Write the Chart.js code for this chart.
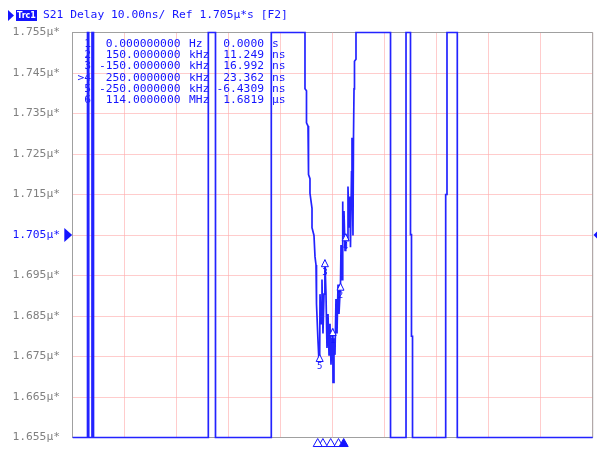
<!DOCTYPE html>
<html><head><meta charset="utf-8">
<script src="https://cdn.jsdelivr.net/npm/chart.js@4.4.1/dist/chart.umd.min.js"></script>
<style>html,body{margin:0;padding:0;background:#fff;overflow:hidden}canvas{display:block}</style>
</head><body>
<canvas id="c" width="597" height="457"></canvas>
<script>
// Trace: frequency offset (kHz) and group delay (µs, clipped to display range)
const freqKHz = [-5000,-4715,-4715,-4692,-4692,-4629,-4629,-4600,-4600,-2392,-2392,-2254,-2254,-1181,-1181,-533,
  -533,-504,-504,-475,-465,-437,-437,-398,-398,-360,-340,-321,-321,-302,-285,-265,-250,-244,-225,-206,-187,-167,-150,
  -129,-110,-90,-71,-52,-33,-13,0,6,25,44,63,83,102,121,150,160,179,188,198,217,237,250,275,294,313,333,342,362,371,
  390,400,410,419,448,448,
  1112,1112,1410,1410,1496,1496,1515,1515,1535,1535,2173,2173,2198,2198,2396,2396,5000];
const delayUs = [1.655,1.655,1.755,1.755,1.655,1.655,1.755,1.755,1.655,1.655,1.755,1.755,1.655,1.655,1.755,1.755,
  1.7411,1.7406,1.7327,1.7319,1.7199,1.7189,1.7153,1.7116,1.7068,1.7049,1.6996,1.6976,1.6904,1.6880,1.6795,1.6740,1.6755,1.6904,1.6831,1.6940,1.6807,1.6904,1.6989,
  1.6904,1.6771,1.6855,1.6754,1.6831,1.6730,1.6795,1.6819,1.6686,1.6795,1.6754,1.6892,1.6807,1.6928,1.6855,1.6931,1.7025,1.6940,1.7133,1.7037,1.7109,1.7012,1.7053,1.7037,1.7170,1.7068,1.7145,1.7020,1.7206,1.7290,
  1.7049,1.7290,1.7411,1.7479,1.7484,1.755,
  1.755,1.655,1.655,1.755,1.755,1.7051,1.7051,1.6800,1.6800,1.655,1.655,1.7150,1.7150,1.755,1.755,1.655,1.655];

const yTicks = [1.655,1.665,1.675,1.685,1.695,1.705,1.715,1.725,1.735,1.745,1.755];
const xTicks = [-5000,-4000,-3000,-2000,-1000,0,1000,2000,3000,4000,5000];
const refLevel = 1.705;

const markerNames = ['1','2','3','4','5'];
const markerFreqKHz = [0,150,-150,250,-250];
const markerDelayUs = [1.6819,1.6931,1.6989,1.7053,1.6755];
const activeMarker = '4';

const tableMarker = ['1','2','3','>4','5','6'];
const tableFreq = ['0.000000000','150.0000000','-150.0000000','250.0000000','-250.0000000','114.0000000'];
const tableFreqUnit = ['Hz','kHz','kHz','kHz','kHz','MHz'];
const tableValue = ['0.0000','11.249','16.992','23.362','-6.4309','1.6819'];
const tableValueUnit = ['s','ns','ns','ns','ns','µs'];

const titleText = 'S21 Delay 10.00ns/ Ref 1.705µ*s [F2]';

const BLUE = '#1414ff';
const TRACE = 'rgb(35,35,255)';
const GRAY = '#808080';
const PINK = 'rgba(255,170,170,0.6)';
const FONT = '"DejaVu Sans Mono", "Liberation Mono", monospace';

const vnaPlugin = {
  id: 'vna',
  beforeDatasetsDraw(chart) {
    const {ctx, chartArea: a} = chart;
    ctx.save();
    ctx.strokeStyle = '#a0a0a0'; ctx.lineWidth = 1;
    ctx.beginPath();
    ctx.moveTo(a.left, a.top); ctx.lineTo(a.right, a.top); ctx.lineTo(a.right, a.bottom);
    ctx.stroke();
    ctx.fillStyle = BLUE;
    ctx.font = '11.3px ' + FONT;
    ctx.textBaseline = 'middle';
    for (let i = 0; i < tableMarker.length; i++) {
      const y = 43.8 + i * 11.3;
      ctx.textAlign = 'right';
      ctx.fillText(tableMarker[i], 91, y);
      ctx.fillText(tableFreq[i], 180.5, y);
      ctx.fillText(tableValue[i], 264, y);
      ctx.textAlign = 'left';
      ctx.fillText(tableFreqUnit[i], 189, y);
      ctx.fillText(tableValueUnit[i], 272, y);
    }
    ctx.restore();
  },
  afterDatasetsDraw(chart) {
    const {ctx, chartArea: a, scales} = chart;
    ctx.save();
    ctx.lineWidth = 1;
    ctx.strokeStyle = BLUE;
    ctx.font = '9px ' + FONT;
    ctx.textAlign = 'center';
    ctx.textBaseline = 'top';
    for (let i = 0; i < markerNames.length; i++) {
      const px = scales.x.getPixelForValue(markerFreqKHz[i]);
      const py = scales.y.getPixelForValue(markerDelayUs[i]);
      ctx.beginPath();
      ctx.moveTo(px, py); ctx.lineTo(px - 3.5, py + 7); ctx.lineTo(px + 3.5, py + 7); ctx.closePath();
      ctx.fillStyle = '#fff'; ctx.fill(); ctx.stroke();
      ctx.fillStyle = BLUE;
      ctx.fillText(markerNames[i], px, py + 8);
    }
    const order = markerNames.map((n, i) => i).sort((i, j) => (markerNames[i] === activeMarker) - (markerNames[j] === activeMarker));
    for (const i of order) {
      const px = scales.x.getPixelForValue(markerFreqKHz[i]) - 2;
      const top = a.bottom + 1;
      ctx.beginPath();
      ctx.moveTo(px, top); ctx.lineTo(px - 4.5, top + 8); ctx.lineTo(px + 4.5, top + 8); ctx.closePath();
      ctx.fillStyle = markerNames[i] === activeMarker ? BLUE : '#fff';
      ctx.fill(); ctx.stroke();
    }
    const ry = scales.y.getPixelForValue(refLevel);
    ctx.fillStyle = BLUE;
    ctx.beginPath();
    ctx.moveTo(64.3, ry - 7); ctx.lineTo(64.3, ry + 7); ctx.lineTo(a.left - 0.5, ry); ctx.closePath(); ctx.fill();
    ctx.beginPath();
    ctx.moveTo(597, ry - 3.5); ctx.lineTo(597, ry + 3.5); ctx.lineTo(593.5, ry); ctx.closePath(); ctx.fill();
    ctx.beginPath();
    ctx.moveTo(8, 10); ctx.lineTo(8, 21); ctx.lineTo(14, 15.5); ctx.closePath(); ctx.fill();
    ctx.fillRect(16, 10, 21, 11);
    ctx.fillStyle = '#fff';
    ctx.font = 'bold 8px "DejaVu Sans"';
    ctx.textAlign = 'center'; ctx.textBaseline = 'middle';
    ctx.fillText('Trc1', 26.5, 15.8);
    ctx.fillStyle = BLUE;
    ctx.font = '11.3px ' + FONT;
    ctx.textAlign = 'left';
    ctx.fillText(titleText, 43, 15.5);
    ctx.restore();
  }
};

new Chart(document.getElementById('c'), {
  type: 'scatter',
  data: {
    datasets: [{
      data: freqKHz.map((f, i) => ({x: f, y: delayUs[i]})),
      showLine: true,
      borderColor: TRACE,
      borderWidth: 1.7,
      pointRadius: 0,
      tension: 0,
      clip: 3
    }]
  },
  options: {
    responsive: false,
    devicePixelRatio: 1,
    animation: false,
    events: [],
    layout: {padding: {top: 32.5, left: 0, right: 4.3, bottom: 10.3}},
    plugins: {legend: {display: false}, tooltip: {enabled: false}},
    scales: {
      x: {
        type: 'linear', min: -5000, max: 5000,
        afterBuildTicks: s => { s.ticks = xTicks.map(v => ({value: v})); },
        afterFit: s => { s.height = 0; },
        ticks: {display: false},
        grid: {color: PINK, lineWidth: 1, drawTicks: false},
        border: {color: '#a0a0a0', width: 1}
      },
      y: {
        min: 1.655, max: 1.755,
        afterBuildTicks: s => { s.ticks = yTicks.map(v => ({value: v})); },
        afterFit: s => { s.width = 72.7; },
        ticks: {
          padding: 12.7,
          font: {family: FONT, size: 11.3},
          color: c => (Math.abs(c.tick.value - refLevel) < 1e-9 ? BLUE : GRAY),
          callback: v => v.toFixed(3) + 'µ*'
        },
        grid: {color: PINK, lineWidth: 1, drawTicks: false},
        border: {color: '#a0a0a0', width: 1}
      }
    }
  },
  plugins: [vnaPlugin]
});
</script>
</body></html>
